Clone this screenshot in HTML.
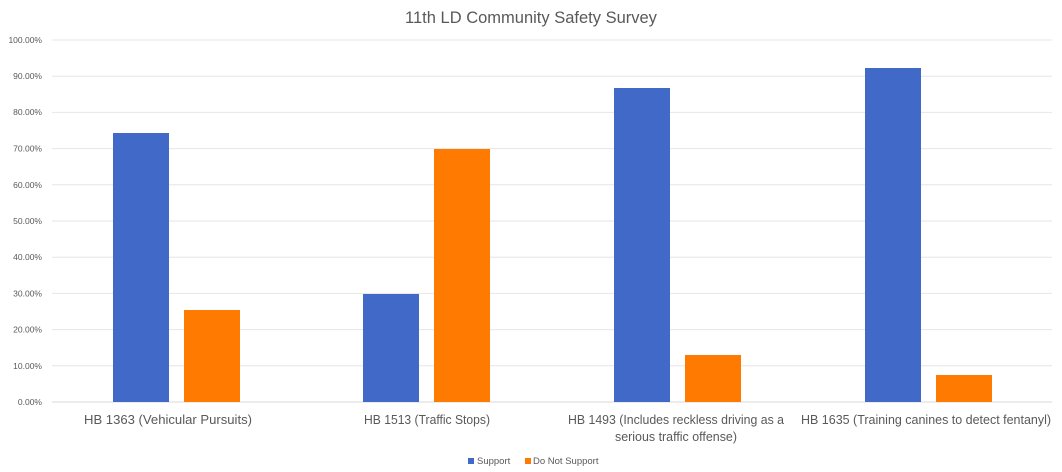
<!DOCTYPE html>
<html><head><style>body{margin:0;background:#fff}svg{display:block;font-family:"Liberation Sans",sans-serif}</style></head><body>
<svg width="1062" height="472" xmlns="http://www.w3.org/2000/svg">
<rect width="1062" height="472" fill="#fff"/>
<text x="531" y="23" text-anchor="middle" font-size="16.5" fill="#595959">11th LD Community Safety Survey</text>
<g stroke="#e6e6e6" stroke-width="1">
<line x1="52" x2="1052" y1="40" y2="40"/><line x1="52" x2="1052" y1="76.2" y2="76.2"/><line x1="52" x2="1052" y1="112.4" y2="112.4"/><line x1="52" x2="1052" y1="148.6" y2="148.6"/><line x1="52" x2="1052" y1="184.8" y2="184.8"/><line x1="52" x2="1052" y1="221" y2="221"/><line x1="52" x2="1052" y1="257.2" y2="257.2"/><line x1="52" x2="1052" y1="293.4" y2="293.4"/><line x1="52" x2="1052" y1="329.6" y2="329.6"/><line x1="52" x2="1052" y1="365.8" y2="365.8"/>
</g>
<line x1="52" x2="1052" y1="402" y2="402" stroke="#d9d9d9"/>
<g font-size="8.5" fill="#595959" text-anchor="end">
<text x="42" y="43">100.00%</text><text x="42" y="79">90.00%</text><text x="42" y="115">80.00%</text><text x="42" y="151.5">70.00%</text><text x="42" y="188">60.00%</text><text x="42" y="224">50.00%</text><text x="42" y="260">40.00%</text><text x="42" y="296.5">30.00%</text><text x="42" y="332.5">20.00%</text><text x="42" y="369">10.00%</text><text x="42" y="405">0.00%</text>
</g>
<g fill="#4169c8">
<rect x="113" y="133" width="56" height="269"/>
<rect x="363" y="294" width="56" height="108"/>
<rect x="614" y="88" width="56" height="314"/>
<rect x="865" y="68" width="56" height="334"/>
</g>
<g fill="#ff7a00">
<rect x="184" y="310" width="56" height="92"/>
<rect x="434" y="149" width="56" height="253"/>
<rect x="685" y="355" width="56" height="47"/>
<rect x="936" y="375" width="56" height="27"/>
</g>
<g font-size="12.5" fill="#595959" text-anchor="middle">
<text x="168" y="424" textLength="168" lengthAdjust="spacingAndGlyphs">HB 1363 (Vehicular Pursuits)</text>
<text x="427" y="424" textLength="126" lengthAdjust="spacingAndGlyphs">HB 1513 (Traffic Stops)</text>
<text x="676" y="424" textLength="216" lengthAdjust="spacingAndGlyphs">HB 1493 (Includes reckless driving as a</text>
<text x="676" y="441" textLength="122" lengthAdjust="spacingAndGlyphs">serious traffic offense)</text>
<text x="926" y="424" textLength="250" lengthAdjust="spacingAndGlyphs">HB 1635 (Training canines to detect fentanyl)</text>
</g>
<rect x="468" y="458" width="6" height="6" fill="#4169c8"/>
<text x="477" y="464" font-size="9.5" fill="#595959">Support</text>
<rect x="525" y="458" width="6" height="6" fill="#ff7a00"/>
<text x="533" y="464" font-size="9.5" fill="#595959">Do Not Support</text>
</svg>
</body></html>
